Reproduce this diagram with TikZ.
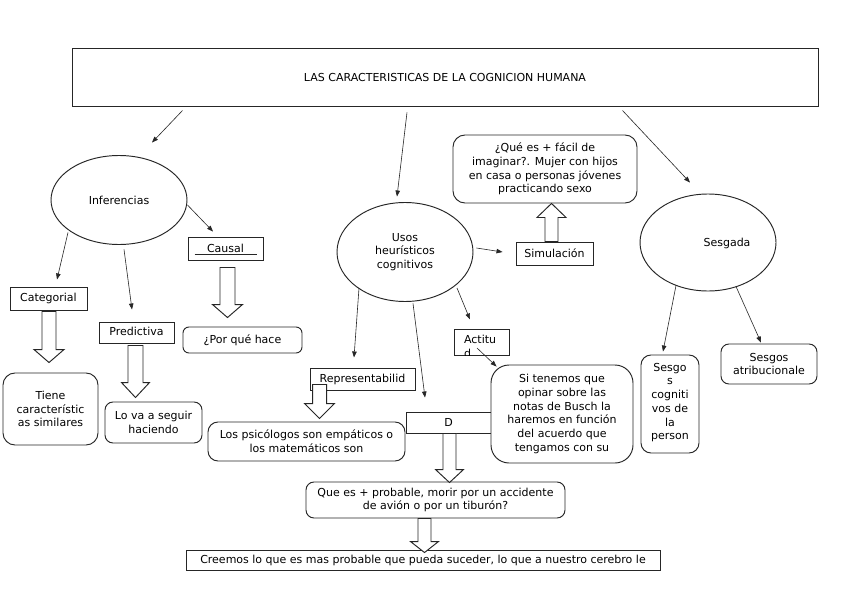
\documentclass[tikz,border=0pt]{standalone}
\usepackage{fontspec}
\setmainfont{DejaVu Sans}
\usetikzlibrary{shapes.geometric,arrows.meta,calc}
\newcommand\hollowarr[5]{% #1 start, #2 tip, #3 shaft half, #4 head half, #5 head length
  \draw[harrow] let \p1=#1, \p2=#2, \n1={sign(\y2-\y1)*#5} in
    (\x1-#3,\y1) -- (\x1-#3,\y2-\n1) -- (\x1-#4,\y2-\n1) -- (\x1,\y2) --
    (\x1+#4,\y2-\n1) -- (\x1+#3,\y2-\n1) -- (\x1+#3,\y1) -- cycle;}
\begin{document}
\begin{tikzpicture}[x=1pt,y=-1pt,
  every node/.style={font=\fontsize{11}{13.7}\selectfont, text=black},
  box/.style={draw=black!85, line width=0.95pt, inner sep=0pt, align=center, fill=white},
  rbox/.style={box, rounded corners=#1}, rbox/.default=8pt,
  ell/.style={draw=black!85, line width=0.95pt, ellipse, inner sep=0pt, align=center, fill=white},
  conn/.style={draw=black!85, line width=0.6pt, -{Triangle[length=6pt,width=4.5pt]}},
  harrow/.style={draw=black!85, line width=0.95pt, fill=white, line join=miter}]
\fill[white] (0,0) rectangle (848,599);
\useasboundingbox (0,0) rectangle (848,599);

% title
\node[box, minimum width=746pt, minimum height=58pt] (title) at (445,77)
  {\fontsize{11}{13}\selectfont LAS CARACTERISTICAS DE LA COGNICION HUMANA};

% left branch
\node[ell, minimum width=136pt, minimum height=89pt] (infer) at (119,200) {Inferencias};
\node[box, minimum width=75pt, minimum height=23pt] (causal) at (225.5,248.5) {Causal};
\draw[line width=0.8pt, black!85] ($(causal.south west)+(7,-6)$) -- ($(causal.south east)+(-6,-6)$);
\node[box, minimum width=77pt, minimum height=23pt] (categ) at (48.5,298.5) {Categorial};
\node[box, minimum width=75pt, minimum height=21pt] (pred) at (136.5,332.5) {\raisebox{2pt}{Predictiva}};
\node[rbox=12pt, minimum width=95pt, minimum height=72pt] (tiene) at (50.5,409)
  {Tiene\\característic\\as similares};
\node[rbox=8pt, minimum width=97pt, minimum height=41pt] (lova) at (153.5,422.5)
  {Lo va a seguir\\haciendo};
\node[rbox=6pt, minimum width=119pt, minimum height=26pt] (porque) at (242.5,340)
  {\raisebox{2pt}{¿Por qué hace}};

% middle branch
\node[ell, minimum width=136pt, minimum height=99pt] (usos) at (405,252)
  {Usos\\heurísticos\\cognitivos};
\node[box, minimum width=77pt, minimum height=23pt] (sim) at (554.5,253.5) {Simulación};
\node[rbox=12pt, minimum width=184pt, minimum height=68pt] (que) at (545,169)
  {¿Qué es + fácil de\\imaginar?. Mujer con hijos\\en casa o personas jóvenes\\practicando sexo};
\node[box, minimum width=55pt, minimum height=26pt] (actitu) at (481.5,342) {};
\begin{scope}
  \clip (actitu.south west) rectangle (actitu.north east);
  \node[align=left, anchor=north west] (actitutxt) at ($(actitu.north west)+(7,3.5)$) {Actitu\\d};
\end{scope}
\node[box, minimum width=105pt, minimum height=22pt] (rep) at (362.5,379) {Representabilid};
\node[box, minimum width=100pt, minimum height=21pt] (D) at (456,422.5) {\hspace*{-15pt}D};
\node[rbox=18pt, minimum width=142pt, minimum height=98pt] (sitenemos) at (562,414)
  {Si tenemos que\\opinar sobre las\\notas de Busch la\\haremos en función\\del acuerdo que\\tengamos con su};
\node[rbox=10pt, minimum width=197pt, minimum height=39pt] (psico) at (306.5,441.5)
  {Los psicólogos son empáticos o\\los matemáticos son};
\node[rbox=8pt, minimum width=259pt, minimum height=36pt] (prob) at (435.5,500)
  {Que es + probable, morir por un accidente\\de avión o por un tiburón?};
\node[box, minimum width=474pt, minimum height=20pt] (creemos) at (423,560)
  {Creemos lo que es mas probable que pueda suceder, lo que a nuestro cerebro le};

% right branch
\node[ell, minimum width=136pt, minimum height=97pt] (sesgada) at (708,242.5) {};
\node (sesgadatxt) at (727,243) {Sesgada};
\node[rbox=10pt, minimum width=58pt, minimum height=98pt] (sesgoss) at (670,404) {};
\node[anchor=north, align=center] (sesgosstxt) at ($(sesgoss.north)+(0,5)$)
  {Sesgo\\s\\cogniti\\vos de\\la\\person};
\node[rbox=8pt, minimum width=96pt, minimum height=40pt] (atrib) at (769,364)
  {Sesgos\\atribucionale};

% thin connectors
\draw[conn] ($(title.south west)+(111,4)$) -- ($(infer.north)+(33,-12.5)$);
\draw[conn] ($(title.south)+(-38,6)$) -- ($(usos.north)+(-8,-5.5)$);
\draw[conn] ($(title.south east)+(-196,4)$) -- ($(sesgada.north)+(-18,-11)$);
\draw[conn] ($(infer.east)+(0,5)$) -- ($(causal.north)+(-12.5,-5)$);
\draw[conn] ($(infer.south)+(-51,-12.5)$) -- ($(categ.north)+(8.5,-7)$);
\draw[conn] ($(infer.south)+(5,4.5)$) -- ($(pred.north)+(-4.5,-12)$);
\draw[conn] ($(usos.east)+(3,-4)$) -- ($(sim.west)+(-13,-1.5)$);
\draw[conn] ($(usos.center)+(52,36)$) -- ($(actitu.north)+(-11.5,-9)$);
\draw[conn] ($(usos.center)+(-46,36)$) -- ($(rep.north)+(-8.5,-10)$);
\draw[conn] ($(usos.south)+(8,1.5)$) -- ($(D.north)+(-31,-14)$);
\draw[conn] ($(actitu.center)+(-4.5,6)$) -- ($(sitenemos.north west)+(6,2)$);
\draw[conn] ($(sesgada.south)+(-32,-6)$) -- ($(sesgoss.north)+(-7,-3)$);
\draw[conn] ($(sesgada.south)+(28,-5)$) -- ($(atrib.north)+(-8,-1)$);

% hollow arrows
\hollowarr{($(categ.south)+(0.5,1)$)}{($(tiene.north)+(0,-10)$)}{7}{15}{13}
\hollowarr{($(pred.south)+(-1,2)$)}{($(lova.north)+(0,-4)$)}{7.5}{14}{15}
\hollowarr{($(causal.south)+(2,7)$)}{($(porque.north)+(0,-9)$)}{7.5}{15}{13}
\hollowarr{($(sim.north)+(-3,0)$)}{($(que.south)+(0,0)$)}{6.5}{14.5}{14}
\hollowarr{($(rep.south west)+(10,-6)$)}{($(psico.north)+(0,-3)$)}{7}{15}{15}
\hollowarr{($(D.south)+(-6.5,0)$)}{($(prob.north)+(0,1)$)}{6.5}{14}{13}
\hollowarr{($(prob.south)+(-11,0)$)}{($(creemos.north)+(0,3)$)}{6.5}{14}{11}
\end{tikzpicture}
\end{document}
